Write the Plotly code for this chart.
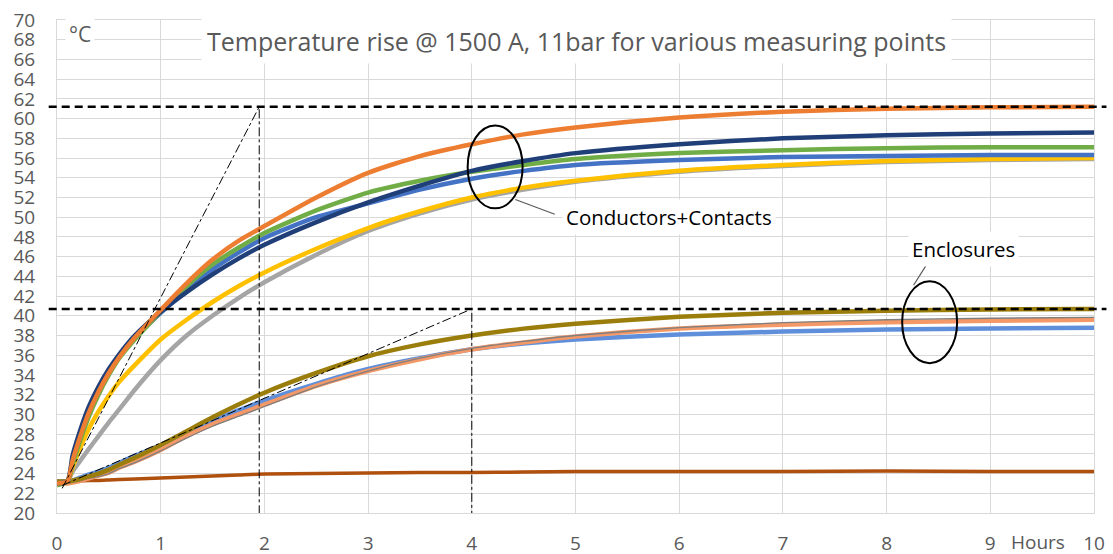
import plotly.graph_objects as go

# ---- data ----
hours = [0, 0.1, 0.15, 0.2, 0.3, 0.4, 0.5, 0.6, 0.75, 1, 1.25, 1.5, 1.75, 2, 2.5, 3, 3.5, 4, 4.5, 5, 6, 7, 8, 9, 10]

cond_gray   = [23.0, 23.2, 24.2, 24.95, 26.4, 27.8, 29.2, 30.5, 32.5, 35.5, 38.0, 40.0, 41.8, 43.4, 46.2, 48.6, 50.4, 51.8, 52.8, 53.6, 54.6, 55.2, 55.6, 55.8, 55.9]
cond_yellow = [23.0, 23.2, 24.6, 26.0, 28.4, 30.3, 31.9, 33.3, 35.0, 37.6, 39.6, 41.4, 43.0, 44.4, 46.8, 48.9, 50.6, 52.0, 53.0, 53.7, 54.7, 55.3, 55.7, 55.9, 56.0]
cond_blue   = [23.0, 23.2, 25.2, 27.0, 30.2, 32.5, 34.4, 35.9, 37.8, 40.3, 42.6, 44.7, 46.4, 47.9, 50.0, 51.4, 52.8, 53.9, 54.7, 55.3, 55.8, 56.1, 56.2, 56.3, 56.3]
cond_green  = [22.8, 23.2, 24.9, 26.6, 29.6, 32.0, 34.0, 35.7, 37.6, 40.4, 43.0, 45.2, 46.9, 48.4, 50.7, 52.5, 53.7, 54.6, 55.3, 55.9, 56.5, 56.8, 57.0, 57.1, 57.1]
cond_navy   = [23.0, 23.2, 25.8, 27.6, 30.6, 32.8, 34.6, 36.1, 38.0, 40.4, 42.4, 44.2, 45.8, 47.2, 49.5, 51.5, 53.2, 54.7, 55.7, 56.5, 57.4, 58.0, 58.3, 58.5, 58.6]
cond_orange = [23.0, 23.2, 25.3, 27.0, 30.0, 32.3, 34.2, 35.8, 37.8, 40.6, 43.3, 45.7, 47.6, 49.1, 52.0, 54.5, 56.2, 57.4, 58.4, 59.1, 60.1, 60.7, 61.0, 61.15, 61.2]

encl_olive  = [23.2, 23.2, 23.3, 23.4, 23.7, 24.0, 24.4, 24.9, 25.6, 26.9, 28.3, 29.7, 31.0, 32.2, 34.2, 35.9, 37.1, 38.0, 38.7, 39.2, 39.9, 40.3, 40.5, 40.65, 40.7]
encl_grey   = [23.0, 23.0, 23.1, 23.2, 23.5, 23.7, 24.0, 24.5, 25.1, 26.3, 27.6, 28.8, 29.8, 30.8, 32.8, 34.4, 35.7, 36.7, 37.4, 38.0, 38.8, 39.3, 39.6, 39.75, 39.85]
encl_salmon = [23.0, 23.0, 23.1, 23.2, 23.5, 23.8, 24.1, 24.6, 25.2, 26.4, 27.8, 29.0, 30.0, 31.0, 32.9, 34.4, 35.6, 36.6, 37.3, 37.9, 38.7, 39.1, 39.35, 39.5, 39.6]
encl_blue   = [23.2, 23.2, 23.3, 23.5, 23.9, 24.2, 24.6, 25.1, 25.8, 26.9, 28.2, 29.4, 30.4, 31.4, 33.1, 34.6, 35.7, 36.6, 37.2, 37.6, 38.1, 38.4, 38.6, 38.7, 38.8]
ambient     = [23.2, 23.2, 23.2, 23.25, 23.3, 23.3, 23.35, 23.4, 23.45, 23.55, 23.65, 23.75, 23.85, 23.95, 24.0, 24.05, 24.1, 24.1, 24.15, 24.2, 24.2, 24.2, 24.25, 24.2, 24.2]

final_cond = 61.2
final_encl = 40.7
tangent_cond_x = [0.05, 1.95, 1.95]
tangent_cond_y = [22.5, 61.2, 20.0]
tangent_encl_x = [0.05, 4.0, 4.0]
tangent_encl_y = [22.8, 40.7, 20.0]

x_ticks = [0, 1, 2, 3, 4, 5, 6, 7, 8, 9, 10]
y_ticks = list(range(20, 71, 2))

TXT = "#595959"
FONT = "Open Sans"

fig = go.Figure()

def add(y, color, width=4.5):
    fig.add_trace(go.Scatter(x=hours, y=y, mode="lines",
                             line=dict(color=color, width=width, shape="spline", smoothing=0.6),
                             hoverinfo="skip"))

add(ambient, "#B0500E", 3.5)
add(encl_blue, "#5F8FDB")
add(encl_salmon, "#F39866")
add(encl_grey, "#7F7F7F", 1.3)
add(encl_olive, "#9B7D0B")
add(cond_gray, "#A5A5A5")
add(cond_yellow, "#FFC000")
add(cond_blue, "#4472C4")
add(cond_green, "#70AD47")
add(cond_navy, "#203F78")
add(cond_orange, "#ED7D31")

for tx, ty in [(tangent_cond_x, tangent_cond_y), (tangent_encl_x, tangent_encl_y)]:
    fig.add_trace(go.Scatter(x=tx, y=ty, mode="lines",
                             line=dict(color="black", width=1, dash="dashdot"),
                             hoverinfo="skip"))

shapes = []
for yv in [final_cond, final_encl]:
    shapes.append(dict(type="line", xref="paper", yref="y", x0=-0.008, x1=1.012, y0=yv, y1=yv,
                       line=dict(color="black", width=2.5, dash="8px,5px")))
# ellipses
shapes.append(dict(type="circle", xref="x", yref="y", x0=3.96, x1=4.49, y0=50.9, y1=59.3,
                   line=dict(color="black", width=2)))
shapes.append(dict(type="circle", xref="x", yref="y", x0=8.15, x1=8.68, y0=35.2, y1=43.5,
                   line=dict(color="black", width=2)))
# connectors
shapes.append(dict(type="line", xref="x", yref="y", x0=4.42, y0=51.8, x1=4.80, y1=50.3,
                   line=dict(color="#595959", width=1.2)))
shapes.append(dict(type="line", xref="x", yref="y", x0=8.26, y0=43.1, x1=8.41, y1=45.6,
                   line=dict(color="#595959", width=1.2)))

annotations = [
    dict(text="Temperature rise @ 1500 A, 11bar for various measuring points",
         xref="paper", yref="paper", x=0.501, y=0.957, xanchor="center", yanchor="middle",
         showarrow=False, font=dict(family=FONT, size=25, color=TXT),
         bgcolor="white", borderpad=5),
    dict(text="°C", xref="paper", yref="paper", x=0.022, y=0.972, xanchor="center", yanchor="middle",
         showarrow=False, font=dict(family=FONT, size=21, color=TXT), bgcolor="white", borderpad=3),
    dict(text="Conductors+Contacts", xref="x", yref="y", x=5.9, y=50.0, xanchor="center", yanchor="middle",
         showarrow=False, font=dict(family=FONT, size=20.5, color="black"), bgcolor="white", borderpad=3),
    dict(text="Enclosures", xref="x", yref="y", x=8.74, y=46.8, xanchor="center", yanchor="middle",
         showarrow=False, font=dict(family=FONT, size=20.5, color="black"), bgcolor="white", borderpad=3),
    dict(text="Hours", xref="paper", yref="paper", x=0.946, y=-0.058, xanchor="center", yanchor="middle",
         showarrow=False, font=dict(family=FONT, size=19, color=TXT)),
]

fig.update_layout(
    width=1113, height=554,
    margin=dict(l=57, r=19, t=20, b=41, autoexpand=False),
    paper_bgcolor="white", plot_bgcolor="white",
    showlegend=False,
    shapes=shapes, annotations=annotations,
    xaxis=dict(range=[0, 10], tickvals=x_ticks, ticktext=[str(v) for v in x_ticks],
               showgrid=True, gridcolor="#D9D9D9", gridwidth=1, zeroline=False,
               showline=True, linecolor="#D9D9D9", mirror=True, automargin=False,
               tickfont=dict(family=FONT, size=19, color=TXT), ticks="", ticklabelstandoff=13),
    yaxis=dict(range=[20, 70], tickvals=y_ticks, ticktext=[str(v) for v in y_ticks],
               showgrid=True, gridcolor="#D9D9D9", gridwidth=1, zeroline=False,
               showline=True, linecolor="#D9D9D9", mirror=True, automargin=False,
               tickfont=dict(family=FONT, size=19, color=TXT), ticks="", ticklabelstandoff=17),
)

fig.write_html("out.html")
